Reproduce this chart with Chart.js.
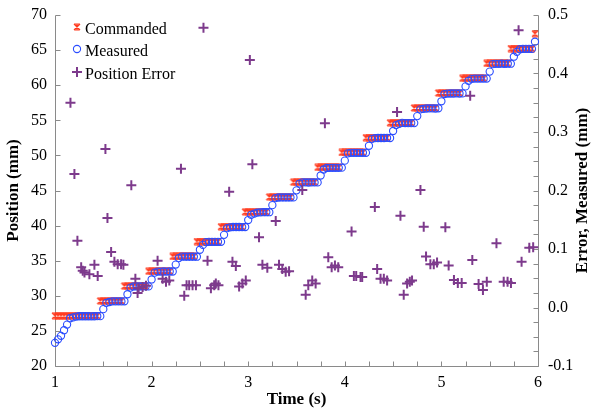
<!DOCTYPE html>
<html>
<head>
<meta charset="utf-8">
<script src="https://cdn.jsdelivr.net/npm/chart.js@4.4.1/dist/chart.umd.min.js"></script>
<style>
  html, body { margin: 0; padding: 0; background: #fff; }
  #wrap { width: 594px; height: 409px; position: relative; }
</style>
</head>
<body>
<div id="wrap"><canvas id="chart"></canvas></div>
<script>
// position log, one sample every 1/32 s starting at t = 1 s
const sampleStart = 1.0;
const samplePeriod = 0.03125;

const commanded = [
  27.15, 27.15, 27.15, 27.15, 27.15, 27.15, 27.15, 27.15, 27.15, 27.15, 27.15, 27.15, 27.15, 27.15, 27.15,
  29.27, 29.27, 29.27, 29.27, 29.27, 29.27, 29.27, 29.27,
  31.38, 31.38, 31.38, 31.38, 31.38, 31.38, 31.38, 31.38,
  33.50, 33.50, 33.50, 33.50, 33.50, 33.50, 33.50, 33.50,
  35.61, 35.61, 35.61, 35.61, 35.61, 35.61, 35.61, 35.61,
  37.73, 37.73, 37.73, 37.73, 37.73, 37.73, 37.73, 37.73,
  39.84, 39.84, 39.84, 39.84, 39.84, 39.84, 39.84, 39.84,
  41.96, 41.96, 41.96, 41.96, 41.96, 41.96, 41.96, 41.96,
  44.07, 44.07, 44.07, 44.07, 44.07, 44.07, 44.07, 44.07,
  46.19, 46.19, 46.19, 46.19, 46.19, 46.19, 46.19, 46.19,
  48.30, 48.30, 48.30, 48.30, 48.30, 48.30, 48.30, 48.30,
  50.42, 50.42, 50.42, 50.42, 50.42, 50.42, 50.42, 50.42,
  52.53, 52.53, 52.53, 52.53, 52.53, 52.53, 52.53, 52.53,
  54.65, 54.65, 54.65, 54.65, 54.65, 54.65, 54.65, 54.65,
  56.76, 56.76, 56.76, 56.76, 56.76, 56.76, 56.76, 56.76,
  58.88, 58.88, 58.88, 58.88, 58.88, 58.88, 58.88, 58.88,
  60.99, 60.99, 60.99, 60.99, 60.99, 60.99, 60.99, 60.99,
  63.11, 63.11, 63.11, 63.11, 63.11, 63.11, 63.11, 63.11,
  65.22, 65.22, 65.22, 65.22, 65.22, 65.22, 65.22, 65.22,
  67.34
];

const measured = [
  23.30, 23.80, 24.30, 25.10, 25.90, 26.80, 26.92, 27.04, 27.09, 27.09, 27.09, 27.09, 27.08, 27.09, 27.10,
  27.10, 28.10, 29.00, 29.12, 29.20, 29.21, 29.22, 29.20,
  29.22, 30.22, 31.17, 31.33, 31.34, 31.33, 31.34, 31.34,
  31.34, 32.33, 33.30, 33.45, 33.45, 33.46, 33.45, 33.46,
  33.46, 34.45, 35.37, 35.59, 35.57, 35.57, 35.57, 35.57,
  35.57, 36.56, 37.25, 37.65, 37.69, 37.69, 37.68, 37.69,
  37.69, 38.68, 39.64, 39.76, 39.80, 39.80, 39.80, 39.79,
  39.80, 40.79, 41.54, 41.72, 41.84, 41.89, 41.91, 41.91,
  41.91, 42.91, 43.92, 44.00, 44.01, 44.01, 44.01, 44.01,
  44.02, 45.02, 45.99, 46.17, 46.15, 46.14, 46.15, 46.15,
  46.15, 47.14, 47.99, 48.21, 48.23, 48.23, 48.23, 48.23,
  48.25, 49.25, 50.29, 50.37, 50.37, 50.37, 50.37, 50.37,
  50.37, 51.37, 52.36, 52.46, 52.48, 52.48, 52.48, 52.49,
  52.48, 53.48, 54.32, 54.49, 54.63, 54.61, 54.60, 54.60,
  54.60, 55.60, 56.56, 56.62, 56.68, 56.69, 56.69, 56.68,
  56.71, 57.71, 58.74, 58.81, 58.82, 58.82, 58.83, 58.82,
  58.83, 59.83, 60.63, 60.91, 60.93, 60.94, 60.94, 60.93,
  60.94, 61.94, 63.00, 63.04, 63.05, 63.06, 63.05, 63.06,
  63.06, 64.06, 64.75, 65.12, 65.17, 65.18, 65.17, 65.17,
  66.20
];

// error samples that fall inside the -0.1 .. 0.5 window
const errorTime = [
  1.160, 1.201, 1.232, 1.271, 1.287, 1.305, 1.356, 1.408, 1.442,
  1.522, 1.543, 1.581, 1.615, 1.649, 1.684, 1.708,
  1.790, 1.832, 1.855, 1.866, 1.907, 1.942,
  2.062, 2.114, 2.149, 2.183,
  2.304, 2.338, 2.362, 2.389, 2.424, 2.459,
  2.537, 2.579, 2.614, 2.648, 2.665, 2.692,
  2.803, 2.837, 2.872, 2.906, 2.940, 2.975,
  3.017, 3.043, 3.112, 3.147, 3.198,
  3.285, 3.319, 3.353, 3.388, 3.423,
  3.560, 3.595, 3.622, 3.663, 3.698,
  3.794, 3.829, 3.864, 3.898, 3.932,
  4.070, 4.094, 4.118, 4.163, 4.180,
  4.311, 4.335, 4.370, 4.404, 4.438,
  4.541, 4.576, 4.610, 4.645, 4.673, 4.696,
  4.783, 4.817, 4.841, 4.886, 4.921, 4.955,
  5.041, 5.075, 5.13, 5.17, 5.21,
  5.298, 5.32, 5.385, 5.43, 5.47,
  5.57, 5.645, 5.685, 5.72,
  5.799, 5.83, 5.91, 5.95
];
const errorValue = [
  0.350, 0.228, 0.114, 0.069, 0.063, 0.060, 0.057, 0.073, 0.054,
  0.271, 0.153, 0.095, 0.078, 0.074, 0.074, 0.073,
  0.209, 0.049, 0.025, 0.033, 0.035, 0.037,
  0.080, 0.049, 0.044, 0.046,
  0.237, 0.020, 0.038, 0.038, 0.038, 0.038,
  0.478, 0.080, 0.033, 0.038, 0.041, 0.038,
  0.198, 0.078, 0.071, 0.036, 0.041, 0.046,
  0.423, 0.245, 0.120, 0.073, 0.068,
  0.148, 0.073, 0.066, 0.061, 0.062,
  0.201, 0.022, 0.038, 0.046, 0.041,
  0.315, 0.086, 0.069, 0.072, 0.069,
  0.130, 0.054, 0.054, 0.052, 0.052,
  0.172, 0.066, 0.049, 0.049, 0.046,
  0.334, 0.157, 0.022, 0.041, 0.044, 0.046,
  0.201, 0.138, 0.087, 0.074, 0.074, 0.077,
  0.137, 0.072, 0.047, 0.042, 0.042,
  0.362, 0.081, 0.040, 0.030, 0.044,
  0.110, 0.044, 0.044, 0.042,
  0.474, 0.078, 0.102, 0.103
];

const sampleTime = commanded.map((v, i) => sampleStart + i * samplePeriod);

const RED = '#ff3b1f';
const BLUE = '#2b4dff';
const PURPLE = '#7d3a8c';
const AXIS = '#8a8a8a';
const SERIF = '"Liberation Serif", "Times New Roman", serif';

// excel style asterisk marker
function starMarker(color) {
  const c = document.createElement('canvas');
  c.width = 8; c.height = 8;
  const g = c.getContext('2d');
  g.strokeStyle = color;
  g.lineWidth = 1.2;
  g.beginPath();
  g.moveTo(1, 1); g.lineTo(7, 7);
  g.moveTo(7, 1); g.lineTo(1, 7);
  g.moveTo(4, 0.5); g.lineTo(4, 7.5);
  g.moveTo(1.5, 1); g.lineTo(6.5, 1);
  g.moveTo(1.5, 7); g.lineTo(6.5, 7);
  g.stroke();
  return c;
}
const star = starMarker(RED);

function pts(xs, ys) {
  return xs.map((x, i) => ({ x: x, y: ys[i] }));
}

// keep the plot box fixed: no extra room for half labels
function fixVertical(width) {
  return s => { s.width = width; s.paddingTop = 0; s.paddingBottom = 0; };
}

const axesPlugin = {
  id: 'axesPlugin',
  beforeDatasetsDraw(chart) {
    const { ctx, chartArea: a, scales } = chart;
    ctx.save();
    ctx.strokeStyle = AXIS;
    ctx.lineWidth = 1;
    const L = Math.round(a.left) + 0.5, R = Math.round(a.right) + 0.5;
    const T = Math.round(a.top) + 0.5, B = Math.round(a.bottom) + 0.5;
    ctx.beginPath();
    ctx.moveTo(L, T); ctx.lineTo(L, B); ctx.lineTo(R, B); ctx.lineTo(R, T);
    // x ticks every 0.25 s, pointing up
    for (let v = 1; v <= 6.0001; v += 0.25) {
      const x = Math.round(scales.x.getPixelForValue(v)) + 0.5;
      ctx.moveTo(x, B); ctx.lineTo(x, B - 5);
    }
    // left ticks every 5 mm
    for (let v = 20; v <= 70.001; v += 5) {
      const y = Math.round(scales.y.getPixelForValue(v)) + 0.5;
      ctx.moveTo(L, y); ctx.lineTo(L + 5, y);
    }
    // right ticks every 0.025 mm
    for (let v = -0.1; v <= 0.5001; v += 0.025) {
      const y = Math.round(scales.y2.getPixelForValue(v)) + 0.5;
      ctx.moveTo(R, y); ctx.lineTo(R - 5, y);
    }
    ctx.stroke();
    ctx.restore();
  },
  afterDraw(chart) {
    const { ctx, chartArea: a } = chart;
    ctx.save();
    ctx.fillStyle = '#000';
    ctx.font = 'bold 17px ' + SERIF;
    ctx.textAlign = 'center';
    ctx.textBaseline = 'middle';
    const cy = (a.top + a.bottom) / 2;
    ctx.fillText('Time (s)', (a.left + a.right) / 2, 400);
    ctx.save();
    ctx.translate(14, cy); ctx.rotate(-Math.PI / 2);
    ctx.fillText('Position (mm)', 0, 0);
    ctx.restore();
    ctx.save();
    ctx.translate(583, cy); ctx.rotate(-Math.PI / 2);
    ctx.fillText('Error, Measured (mm)', 0, 0);
    ctx.restore();

    // legend inside the plot, top left
    const rows = [
      { text: 'Commanded', ds: chart.data.datasets[0], y: a.top + 15 },
      { text: 'Measured', ds: chart.data.datasets[1], y: a.top + 37 },
      { text: 'Position Error', ds: chart.data.datasets[2], y: a.top + 60 }
    ];
    ctx.font = '16px ' + SERIF;
    ctx.textAlign = 'left';
    ctx.textBaseline = 'middle';
    rows.forEach(r => {
      ctx.strokeStyle = r.ds.borderColor;
      ctx.fillStyle = r.ds.backgroundColor;
      ctx.lineWidth = r.ds.borderWidth;
      Chart.helpers.drawPoint(ctx, {
        pointStyle: r.ds.pointStyle,
        radius: r.ds.pointRadius,
        borderWidth: r.ds.borderWidth,
        rotation: 0
      }, a.left + 22, r.y - 3);
      ctx.fillStyle = '#000';
      ctx.fillText(r.text, a.left + 30, r.y);
    });
    ctx.restore();
  }
};

new Chart(document.getElementById('chart'), {
  type: 'scatter',
  data: {
    datasets: [
      {
        label: 'Commanded',
        data: pts(sampleTime, commanded),
        yAxisID: 'y',
        pointStyle: star,
        pointRadius: 4,
        borderColor: RED,
        backgroundColor: RED,
        borderWidth: 1,
        order: 3,
        clip: false
      },
      {
        label: 'Measured',
        data: pts(sampleTime, measured),
        yAxisID: 'y',
        pointStyle: 'circle',
        pointRadius: 3.6,
        borderColor: BLUE,
        backgroundColor: 'rgba(0,0,0,0)',
        borderWidth: 1.1,
        order: 2,
        clip: false
      },
      {
        label: 'Position Error',
        data: pts(errorTime, errorValue),
        yAxisID: 'y2',
        pointStyle: 'cross',
        pointRadius: 5,
        borderColor: PURPLE,
        backgroundColor: PURPLE,
        borderWidth: 2,
        order: 1,
        clip: false
      }
    ]
  },
  options: {
    responsive: true,
    maintainAspectRatio: false,
    animation: false,
    events: [],
    layout: { padding: { top: 15, left: 0, right: 0, bottom: 0 } },
    plugins: { legend: { display: false }, tooltip: { enabled: false } },
    scales: {
      x: {
        type: 'linear',
        min: 1, max: 6,
        grid: { display: false, drawTicks: false },
        border: { display: false },
        ticks: { stepSize: 1, padding: 7, color: '#000', font: { family: SERIF, size: 16 } },
        afterFit: s => { s.height = 43; s.paddingLeft = 0; s.paddingRight = 0; }
      },
      y: {
        position: 'left',
        min: 20, max: 70,
        grid: { display: false, drawTicks: false },
        border: { display: false },
        ticks: { stepSize: 5, padding: 8, color: '#000', font: { family: SERIF, size: 16 } },
        afterFit: fixVertical(55)
      },
      y2: {
        position: 'right',
        min: -0.1, max: 0.5,
        grid: { display: false, drawTicks: false },
        border: { display: false },
        ticks: {
          stepSize: 0.1, padding: 10, color: '#000', font: { family: SERIF, size: 16 },
          callback: v => (Math.abs(v) < 1e-9 ? 0 : v).toFixed(1)
        },
        afterFit: fixVertical(56)
      }
    }
  },
  plugins: [axesPlugin]
});
</script>
</body>
</html>
